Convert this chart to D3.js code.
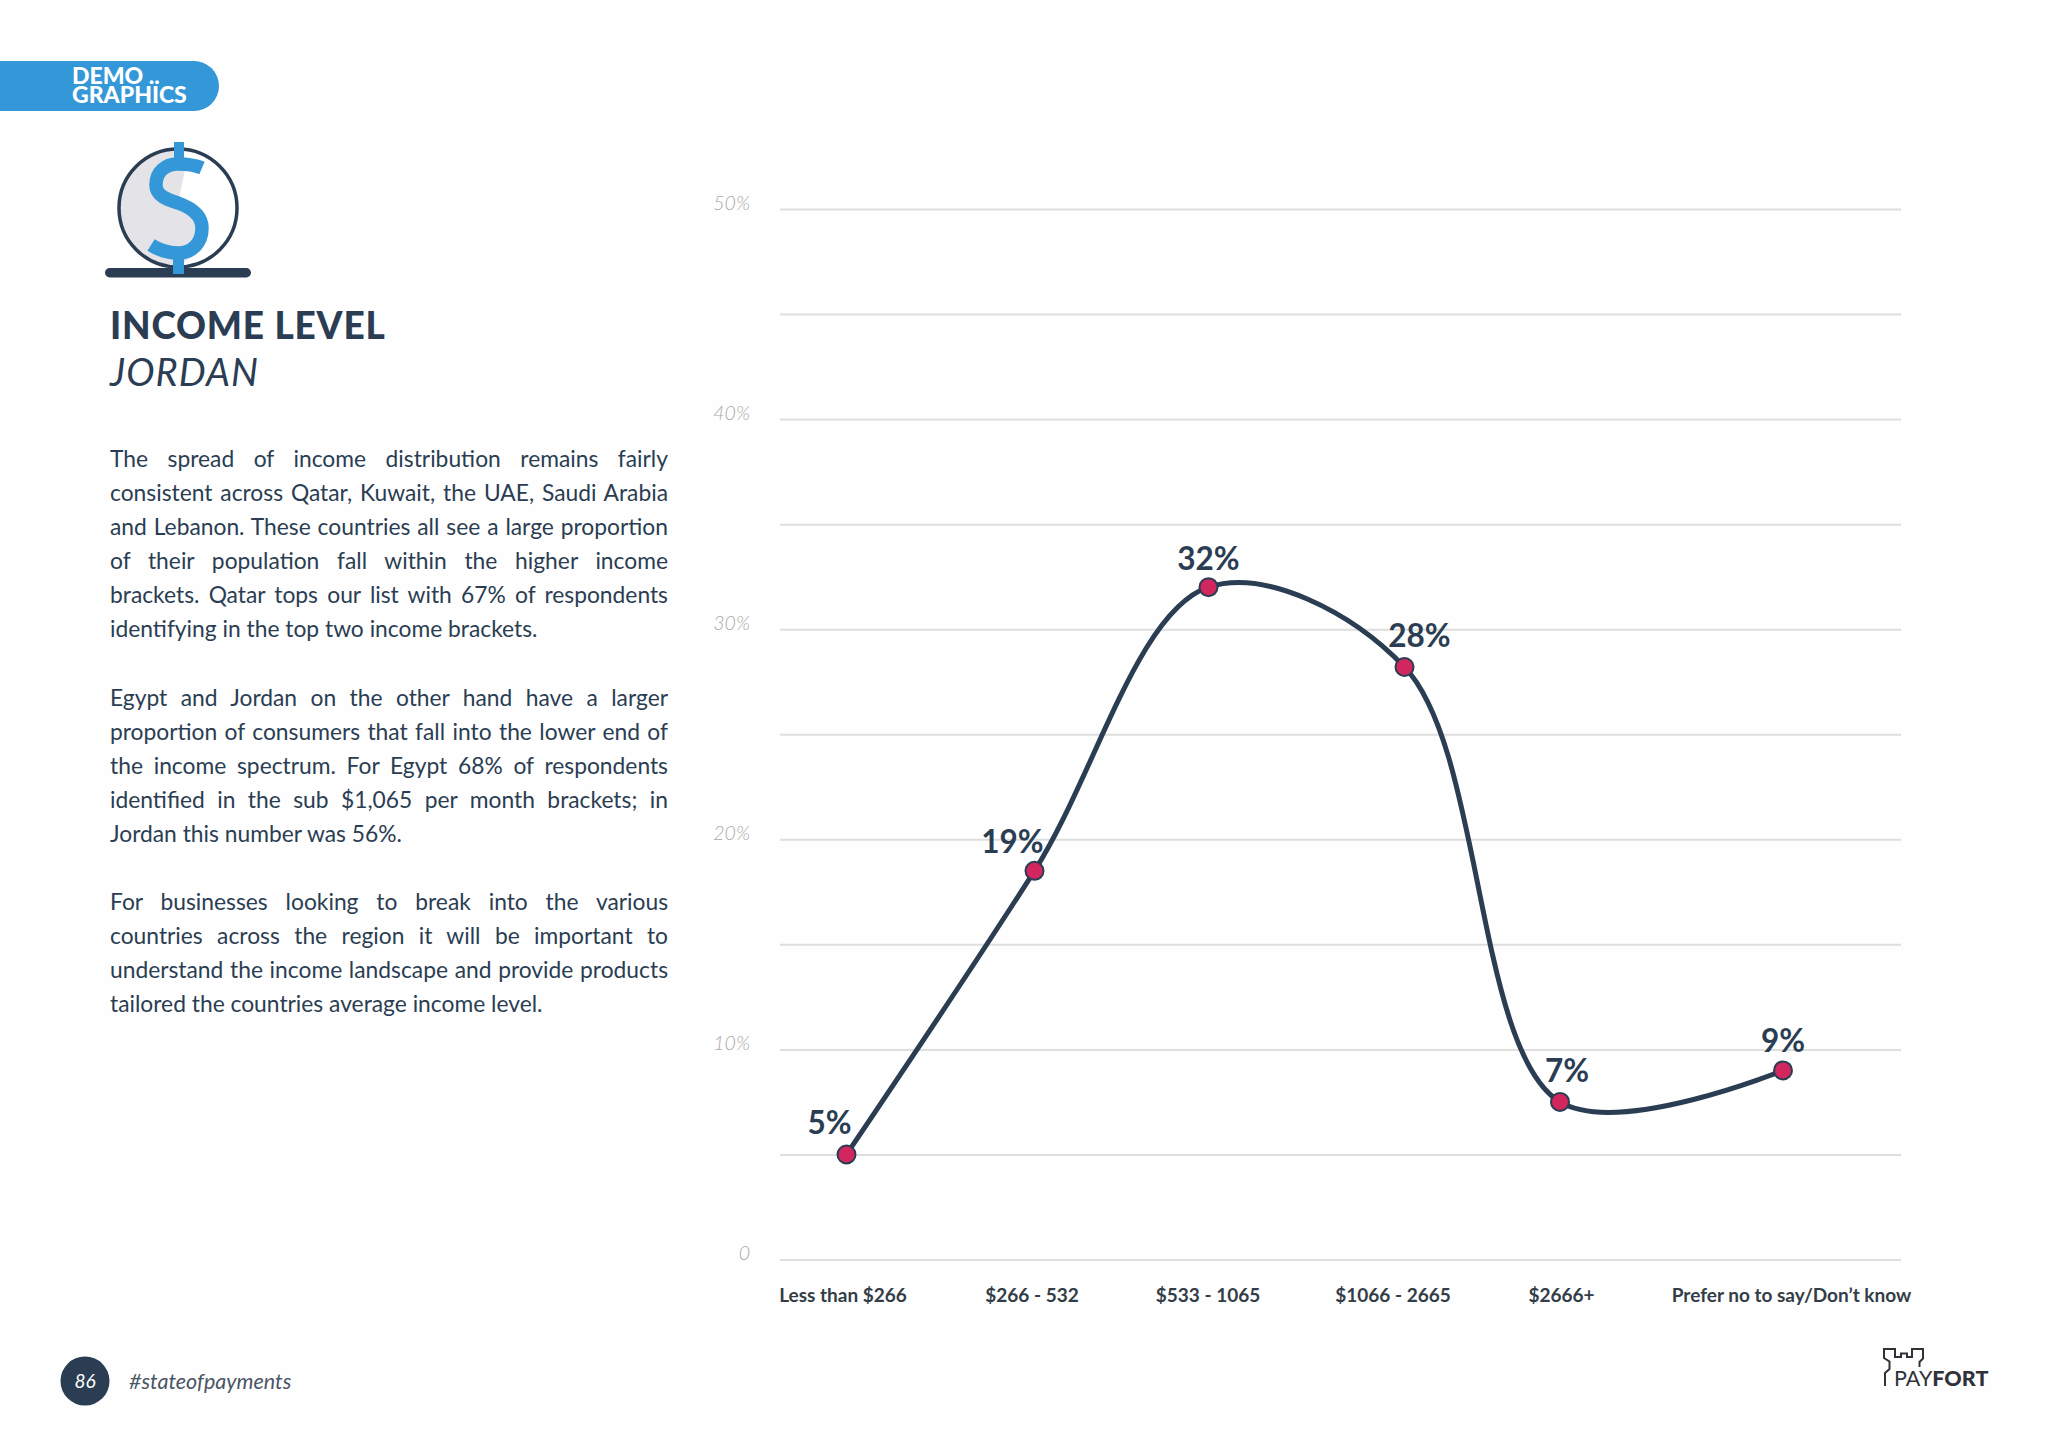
<!DOCTYPE html>
<html>
<head>
<meta charset="utf-8">
<script src="https://cdn.jsdelivr.net/npm/d3@7"></script>
<style>
  html, body { margin: 0; padding: 0; background: #fefefe; }
  svg { display: block; }
  text { font-family: Lato, sans-serif; }
</style>
</head>
<body>
<svg id="page" width="2048" height="1448"></svg>
<script>
// chart values
const categories = ["Less than $266", "$266 - 532", "$533 - 1065", "$1066 - 2665", "$2666+", "Prefer no to say/Don\u2019t know"];
const shares = [5, 18.5, 32, 28.2, 7.5, 9];
const shareLabels = ["5%", "19%", "32%", "28%", "7%", "9%"];
const gridTicks = [0, 5, 10, 15, 20, 25, 30, 35, 40, 45, 50];
const labelTicks = [0, 10, 20, 30, 40, 50];

const paragraphs = [
  ["The spread of income distribution remains fairly",
   "consistent across Qatar, Kuwait, the UAE, Saudi Arabia",
   "and Lebanon. These countries all see a large proportion",
   "of their population fall within the higher income",
   "brackets. Qatar tops our list with 67% of respondents",
   "identifying in the top two income brackets."],
  ["Egypt and Jordan on the other hand have a larger",
   "proportion of consumers that fall into the lower end of",
   "the income spectrum. For Egypt 68% of respondents",
   "identified in the sub $1,065 per month brackets; in",
   "Jordan this number was 56%."],
  ["For businesses looking to break into the various",
   "countries across the region it will be important to",
   "understand the income landscape and provide products",
   "tailored the countries average income level."]
];

const navy = "#2a3d52", blue = "#3498d8", crimson = "#d2265f";
const svg = d3.select("#page");

// the x positions are uneven in the original, so ordinal with explicit range
const x = d3.scaleOrdinal().domain(categories).range([846.5, 1034.5, 1208.5, 1404.5, 1560, 1783]);
const y = d3.scaleLinear().domain([0, 50]).range([1259.5, 209]);
const gridLeft = 780, gridRight = 1901;

// gridlines
const grid = svg.append("g").attr("transform", `translate(${gridLeft},0)`)
  .call(d3.axisLeft(y).tickValues(gridTicks).tickSize(gridLeft - gridRight).tickFormat(""));
grid.select(".domain").remove();
grid.selectAll("line").attr("stroke", "#dedede").attr("stroke-width", 2);

// y labels
const yLabels = svg.append("g").attr("transform", "translate(750,0)")
  .call(d3.axisLeft(y).tickValues(labelTicks).tickSize(0).tickPadding(0).tickFormat(d => d ? d + "%" : "0"));
yLabels.select(".domain").remove();
yLabels.selectAll("text").attr("y", -6).attr("fill", "#aaaaaa").attr("font-size", 19.5).attr("font-weight", 300)
  .attr("font-style", "italic").style("font-family", "Lato, sans-serif");

// x labels sit a little off their points
const tickDx = [-4, -3, -1, -12, 1, 8];
const xLabels = svg.append("g").attr("transform", "translate(0,1288)")
  .call(d3.axisBottom(x).tickSize(0).tickPadding(0));
xLabels.select(".domain").remove();
xLabels.selectAll("text").attr("dx", (d, i) => tickDx[i]).attr("fill", "#333d47").attr("font-size", 19).attr("font-weight", 700)
  .style("font-family", "Lato, sans-serif");

// line
const line = d3.line().x((d, i) => x(categories[i])).y(d => y(d)).curve(d3.curveCatmullRom.alpha(0.5));
svg.append("path").datum(shares).attr("d", line).attr("fill", "none").attr("stroke", navy).attr("stroke-width", 5);

svg.selectAll(".dot").data(shares).enter().append("circle").attr("class", "dot")
  .attr("cx", (d, i) => x(categories[i])).attr("cy", d => y(d)).attr("r", 9)
  .attr("fill", crimson).attr("stroke", navy).attr("stroke-width", 2);

const labelDx = [-17, -22, 0, 15, 7, 0];
const labelDy = [-20, -18, -17, -20, -20, -18];
svg.selectAll(".val").data(shareLabels).enter().append("text").attr("class", "val")
  .attr("x", (d, i) => x(categories[i]) + labelDx[i]).attr("y", (d, i) => y(shares[i]) + labelDy[i])
  .attr("text-anchor", "middle").attr("fill", navy).attr("font-size", 31.5).attr("font-weight", 700).text(d => d);

// left column: banner
svg.append("path").attr("d", "M0,61H194a25,25 0 0 1 0,50H0Z").attr("fill", blue);
const banner = svg.append("text").attr("fill", "#fff").attr("font-size", 23).attr("font-weight", 900);
banner.append("tspan").attr("x", 72).attr("y", 84).text("DEMO ..");
banner.append("tspan").attr("x", 72).attr("y", 103).text("GRAPHICS");

// dollar coin icon
const icon = svg.append("g");
icon.append("circle").attr("cx", 178).attr("cy", 208).attr("r", 59).attr("fill", "#fff");
icon.append("path").attr("d", "M178,150 A58,58 0 0 0 178,266 L202,250 L202,228 L178,203 L185,170Z").attr("fill", "#e4e4e8");
icon.append("circle").attr("cx", 178).attr("cy", 208).attr("r", 59).attr("fill", "none").attr("stroke", navy).attr("stroke-width", 3.5);
icon.append("rect").attr("x", 105).attr("y", 268).attr("width", 146).attr("height", 9.5).attr("rx", 4.7).attr("fill", navy);
icon.append("path").attr("d", "M202,168 C195,165 187,164 178,164 C165,164 156,172 156,185 C156,195 165,199 178,203 C192,208 202,215 202,228 C202,243 192,253 178,253 C168,253 159,250 151,245")
  .attr("fill", "none").attr("stroke", blue).attr("stroke-width", 13.5);
icon.append("rect").attr("x", 174).attr("y", 142).attr("width", 10).attr("height", 20).attr("fill", blue);
icon.append("rect").attr("x", 173).attr("y", 254).attr("width", 11).attr("height", 20).attr("fill", blue);

// headings
svg.append("text").attr("x", 110).attr("y", 338.5).attr("fill", navy).attr("font-size", 37).attr("font-weight", 900)
  .attr("letter-spacing", 0.8).text("INCOME LEVEL");
svg.append("text").attr("x", 110).attr("y", 386).attr("fill", navy).attr("font-size", 38).attr("font-style", "italic")
  .attr("letter-spacing", 1).text("JORDAN");

// body copy, justified by hand with word-spacing
const textLeft = 110, textWidth = 558, lineStep = 34.05;
const paraTops = [467, 705.5, 910];
paragraphs.forEach((lines, p) => {
  lines.forEach((str, i) => {
    const t = svg.append("text").attr("x", textLeft).attr("y", paraTops[p] + i * lineStep)
      .attr("fill", navy).attr("font-size", 22.8).text(str);
    if (i < lines.length - 1) {
      const gaps = str.split(" ").length - 1;
      t.attr("word-spacing", (textWidth - t.node().getComputedTextLength()) / gaps);
    }
  });
});

// footer
svg.append("circle").attr("cx", 85).attr("cy", 1381).attr("r", 24.5).attr("fill", navy);
svg.append("text").attr("x", 85).attr("y", 1388).attr("text-anchor", "middle").attr("fill", "#fff")
  .attr("font-size", 19).attr("font-style", "italic").text("86");
svg.append("text").attr("x", 129).attr("y", 1389).attr("fill", "#4a5564")
  .attr("font-size", 21.5).attr("font-style", "italic").text("#stateofpayments");

// payfort logo
const logoInk = "#2f3238";
svg.append("path").attr("d", "M1885,1386V1373l4.5,-4V1361.5l-5.5,-3.5V1349H1895V1357H1901V1353.5H1907V1357H1912V1349H1923V1358.5L1919.5,1362V1367")
  .attr("fill", "none").attr("stroke", logoInk).attr("stroke-width", 2);
svg.append("text").attr("x", 1894).attr("y", 1386).attr("fill", logoInk).attr("font-size", 21.5).attr("font-weight", 400).text("PAY")
  .append("tspan").attr("font-weight", 900).text("FORT");
</script>
</body>
</html>
